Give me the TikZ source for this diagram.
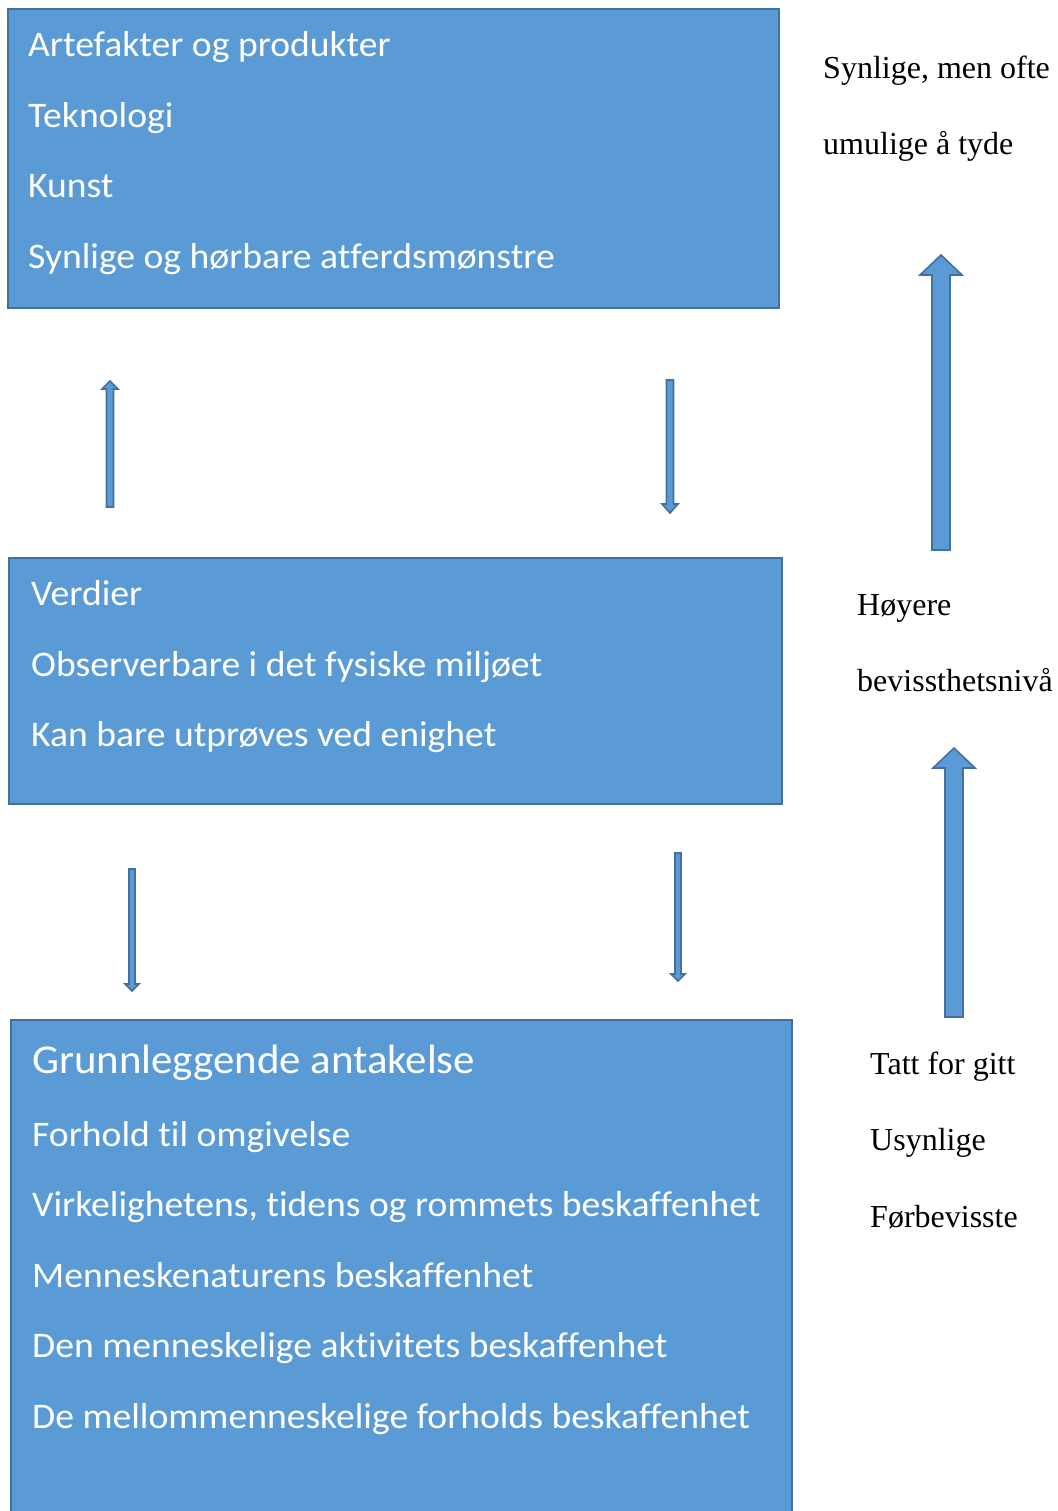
\documentclass[tikz,border=0pt]{standalone}
\usepackage{fontspec}
\setmainfont{Liberation Serif}
\newfontfamily\calfont[FakeStretch=1.045,Ligatures=NoCommon]{Carlito}
\definecolor{boxfill}{HTML}{5B9BD5}
\definecolor{boxline}{HTML}{41719C}
\tikzset{
  layerbox/.style={draw=boxline, fill=boxfill, line width=2.2pt},
  blockarr/.style={draw=boxline, fill=boxfill, line width=1.6pt, line join=miter},
  boxtext/.style={anchor=base west, inner sep=0pt, text=white, font=\calfont\fontsize{36}{44}\selectfont},
  titletext/.style={anchor=base west, inner sep=0pt, text=white, font=\calfont\fontsize{41}{49}\selectfont},
  sidetext/.style={anchor=base west, inner sep=0pt, font=\fontsize{32}{38}\selectfont},
}
% #1 x, #2 tail y, #3 neck y, #4 tip y, #5 half shaft, #6 half head
\newcommand{\blockarrow}[6]{%
  \draw[blockarr] (#1-#5,#2) -- (#1-#5,#3) -- (#1-#6,#3) -- (#1,#4) -- (#1+#6,#3) -- (#1+#5,#3) -- (#1+#5,#2) -- cycle;}
\begin{document}
\begin{tikzpicture}[x=1pt,y=-1pt]
\useasboundingbox (0,0) rectangle (1057,1511);
\begin{scope}
\clip (0,0) rectangle (1057,1511);
% boxes
\draw[layerbox] (8,9) rectangle (779,308);
\draw[layerbox] (9,558) rectangle (782,804);
\draw[layerbox] (11,1020) rectangle (792,1530);
\end{scope}
% box 1 texts
\node[boxtext] (t11) at (28,56.5) {Artefakter og produkter};
\node[boxtext] (t12) at (28,127.5) {Teknologi};
\node[boxtext] (t13) at (28,197.5) {Kunst};
\node[boxtext] (t14) at (28,268.5) {Synlige og hørbare atferdsmønstre};
% box 2 texts
\node[boxtext] (t21) at (31,605.5) {Verdier};
\node[boxtext] (t22) at (31,676.5) {Observerbare i det fysiske miljøet};
\node[boxtext] (t23) at (31,746.5) {Kan bare utprøves ved enighet};
% box 3 texts
\node[titletext] (t31) at (32,1073) {Grunnleggende antakelse};
\node[boxtext] (t32) at (32,1146) {Forhold til omgivelse};
\node[boxtext] (t33) at (32,1216.5) {Virkelighetens, tidens og rommets beskaffenhet};
\node[boxtext] (t34) at (32,1287) {Menneskenaturens beskaffenhet};
\node[boxtext] (t35) at (32,1357.5) {Den menneskelige aktivitets beskaffenhet};
\node[boxtext] (t36) at (32,1428) {De mellommenneskelige forholds beskaffenhet};
% side texts
\node[sidetext] (s1) at (823,79) {Synlige, men ofte};
\node[sidetext] (s2) at (823,155) {umulige å tyde};
\node[sidetext] (s3) at (857,615) {Høyere};
\node[sidetext] (s4) at (857,691) {bevissthetsnivå};
\node[sidetext] (s5) at (870,1074) {Tatt for gitt};
\node[sidetext] (s6) at (870,1150) {Usynlige};
\node[sidetext] (s7) at (870,1227) {Førbevisste};
% arrows
\blockarrow{110}{507}{389}{381}{3.5}{8}
\blockarrow{670}{380}{504}{513}{3.5}{8}
\blockarrow{132}{869}{984}{991}{3}{7}
\blockarrow{678}{853}{974}{981}{3}{7}
\blockarrow{941}{550}{275}{255}{9}{21}
\blockarrow{954}{1017}{768}{748}{9}{21}
\end{tikzpicture}
\end{document}
